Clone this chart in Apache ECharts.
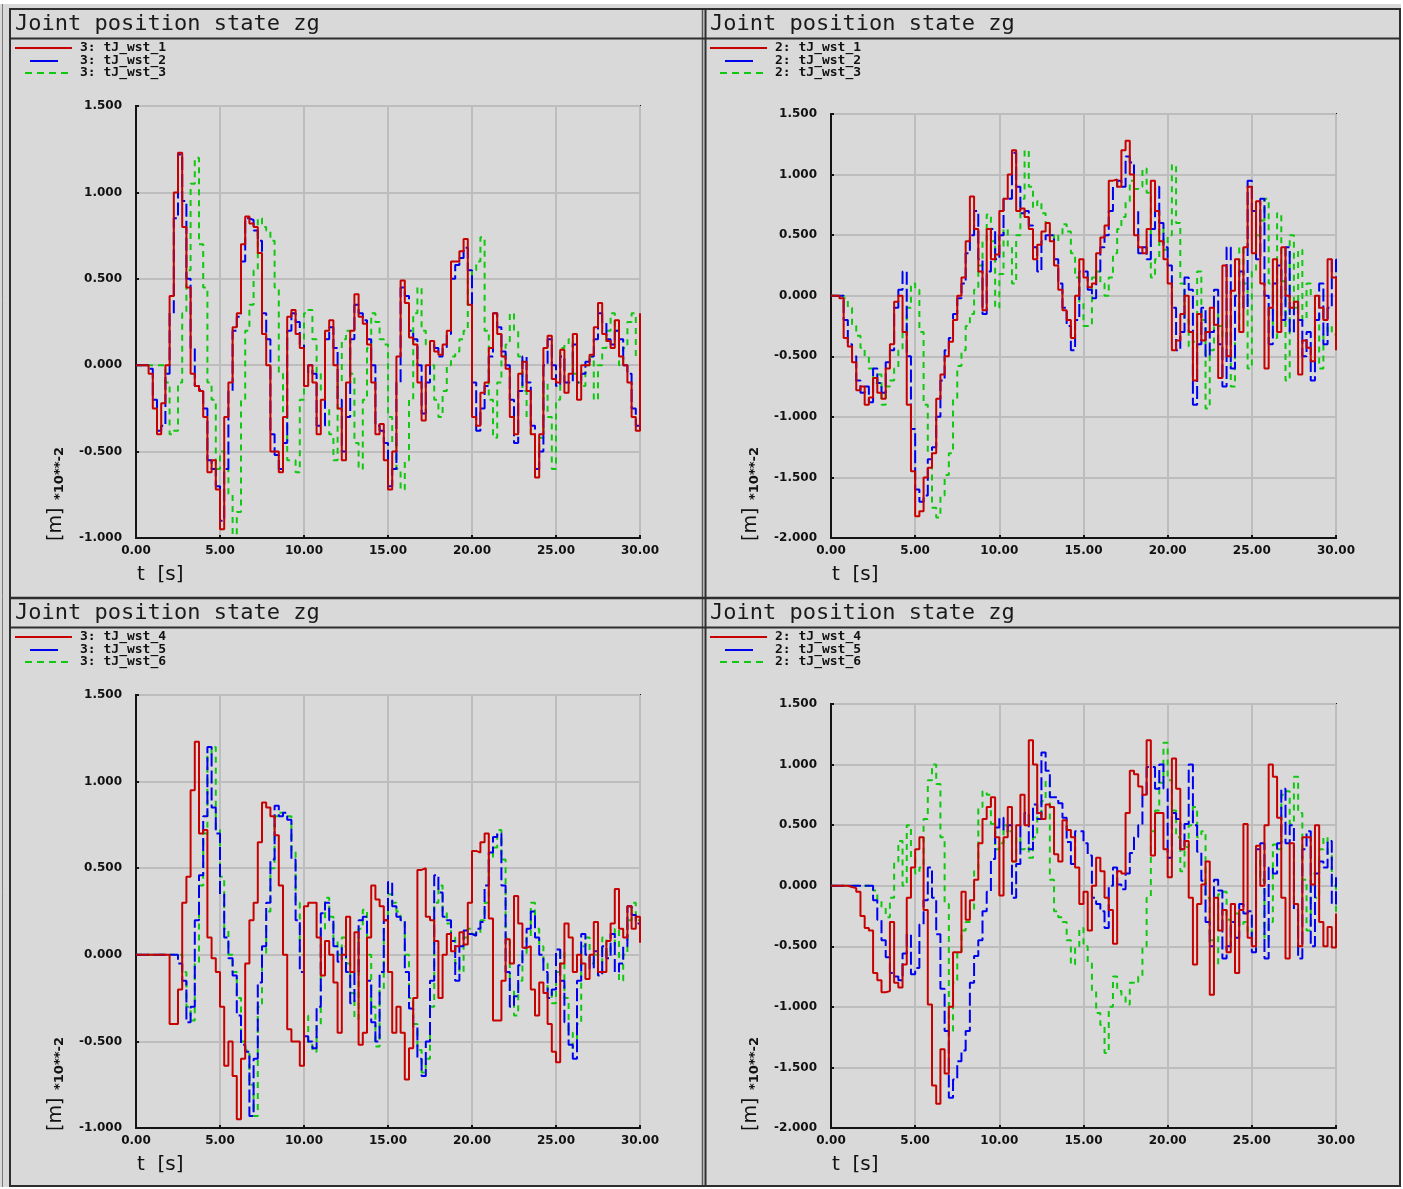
<!DOCTYPE html>
<html>
<head>
<meta charset="utf-8">
<script src="https://cdn.jsdelivr.net/npm/echarts@6/dist/echarts.min.js"></script>
<style>
  html, body { margin: 0; padding: 0; background: #ffffff; }
  #chart { width: 1403px; height: 1189px; }
</style>
</head>
<body>
<div id="chart"></div>
<script>
// Sampling period of the logged joint positions [s]
const SAMPLE_STEP = 0.25;

// Tick labels
const timeTickLabels = ['0.00', '5.00', '10.00', '15.00', '20.00', '25.00', '30.00'];
const posTickLabelsNarrow = ['-1.000', '-0.500', '0.000', '0.500', '1.000', '1.500'];
const posTickLabelsWide = ['-2.000', '-1.500', '-1.000', '-0.500', '0.000', '0.500', '1.000', '1.500'];

// Legend names
const namesTopLeft = ['3: tJ_wst_1', '3: tJ_wst_2', '3: tJ_wst_3'];
const namesTopRight = ['2: tJ_wst_1', '2: tJ_wst_2', '2: tJ_wst_3'];
const namesBottomLeft = ['3: tJ_wst_4', '3: tJ_wst_5', '3: tJ_wst_6'];
const namesBottomRight = ['2: tJ_wst_4', '2: tJ_wst_5', '2: tJ_wst_6'];

// Joint positions [m] *10**-2, one value per sample (rows of 2 s)
const wst1_3 = [
  0, 0, 0, -0.05, -0.25, -0.4, -0.22, 0.0,
  0.4, 1.0, 1.23, 0.8, 0.45, -0.05, -0.12, -0.15,
  -0.3, -0.62, -0.55, -0.72, -0.95, -0.3, -0.1, 0.22,
  0.3, 0.7, 0.86, 0.82, 0.8, 0.65, 0.18, 0.0,
  -0.5, -0.5, -0.62, -0.3, 0.28, 0.32, 0.18, 0.1,
  -0.12, 0.0, -0.1, -0.4, -0.2, 0.2, 0.26, 0.0,
  -0.25, -0.55, -0.1, 0.2, 0.41, 0.28, 0.24, 0.12,
  -0.1, -0.4, -0.34, -0.55, -0.72, -0.5, 0.05, 0.49,
  0.36, 0.16, 0.12, -0.1, -0.32, 0.0, 0.14, 0.08,
  0.06, 0.12, 0.2, 0.6, 0.6, 0.66, 0.73, 0.35,
  -0.3, -0.35, -0.16, -0.1, 0.1, 0.3, 0.18, 0.05,
  -0.02, -0.3, -0.4, -0.05, 0.02, -0.15, -0.4, -0.65,
  -0.4, 0.1, 0.17, -0.08, -0.1, 0.09, -0.16, -0.05,
  0.18, -0.2, 0.0, 0.0, 0.06, 0.22, 0.36, 0.18,
  0.14, 0.1, 0.26, 0.05, 0.0, -0.1, -0.3, -0.38,
  0.3
];
const wst2_3 = [
  0, 0, 0, -0.02, -0.2, -0.38, -0.35, -0.05,
  0.3, 0.85, 1.22, 0.95, 0.5, 0.1, -0.12, -0.14,
  -0.25, -0.55, -0.6, -0.7, -0.9, -0.6, -0.15, 0.2,
  0.28, 0.6, 0.85, 0.84, 0.78, 0.72, 0.3, 0.15,
  -0.4, -0.52, -0.6, -0.45, 0.2, 0.3, 0.25, 0.12,
  -0.05, 0.0, -0.05, -0.35, -0.35, 0.15, 0.22, 0.1,
  -0.2, -0.5, -0.3, 0.15, 0.35, 0.3, 0.26, 0.15,
  0.0, -0.35, -0.38, -0.45, -0.7, -0.6, -0.1, 0.45,
  0.4, 0.2, 0.15, 0.0, -0.28, -0.1, 0.12, 0.1,
  0.05, 0.1, 0.18, 0.5, 0.58, 0.62, 0.68, 0.55,
  -0.1, -0.38, -0.25, -0.12, 0.05, 0.3, 0.22, 0.08,
  0.0, -0.2, -0.45, -0.15, 0.05, -0.1, -0.35, -0.6,
  -0.5, 0.0, 0.15, 0.0, -0.12, 0.05, -0.1, -0.1,
  0.12, -0.1, -0.05, 0.02, 0.05, 0.15, 0.3, 0.25,
  0.15, 0.12, 0.2, 0.15, 0.0, -0.05, -0.25, -0.35,
  0.2
];
const wst3_3 = [
  0, 0, 0, 0, 0, 0, 0, -0.1,
  -0.4, -0.38, -0.1, 0.3, 0.55, 1.05, 1.2, 0.7,
  0.45, -0.1, -0.2, -0.6, -0.5, -0.6, -0.75, -0.98,
  -0.85, -0.2, 0.2, 0.35, 0.55, 0.85, 0.8, 0.78,
  0.72, 0.45, -0.05, -0.3, -0.55, -0.55, -0.62, -0.2,
  0.3, 0.32, 0.15, -0.05, -0.15, -0.25, -0.4, -0.55,
  -0.1, 0.15, 0.2, -0.05, -0.45, -0.6, -0.2, 0.1,
  0.3, 0.25, 0.15, 0.12, -0.3, -0.45, -0.6, -0.72,
  -0.55, -0.2, 0.3, 0.45, 0.2, 0.12, 0.0, -0.2,
  -0.3, -0.15, 0.0, 0.05, 0.08, 0.15, 0.2, 0.5,
  0.55, 0.6, 0.74, 0.2, -0.2, -0.42, -0.1, 0.05,
  0.12, 0.3, 0.2, 0.05, -0.15, -0.3, -0.4, -0.5,
  -0.42, -0.1, -0.3, -0.6, -0.2, 0.1, 0.12, 0.15,
  -0.05, -0.1, -0.12, 0.0, 0.05, -0.2, 0.0, 0.1,
  0.2, 0.3, 0.2, 0.0, 0.1, 0.25, 0.3, 0.05,
  0.0
];
const wst1_2 = [
  0, 0, -0.02, -0.35, -0.42, -0.55, -0.78, -0.75,
  -0.9, -0.84, -0.68, -0.8, -0.85, -0.6, -0.4, -0.05,
  0.0, -0.3, -0.9, -1.45, -1.82, -1.78, -1.5, -1.42,
  -1.3, -0.85, -0.65, -0.5, -0.38, -0.2, 0.0, 0.15,
  0.45, 0.82, 0.55, 0.2, -0.12, 0.55, 0.3, 0.34,
  0.7, 0.8, 1.0, 1.2, 0.7, 0.72, 0.65, 0.55,
  0.3, 0.42, 0.53, 0.6, 0.45, 0.25, 0.05, -0.12,
  -0.2, -0.35, 0.0, 0.3, 0.15, 0.07, 0.1, 0.35,
  0.48, 0.58, 0.95, 0.96, 0.9, 1.2, 1.28, 1.0,
  0.5, 0.4, 0.35, 0.55, 0.95, 0.7, 0.45, 0.3,
  0.1, -0.45, -0.37, -0.15, 0.0, -0.3, -0.7, -0.15,
  -0.37, -0.3, -0.1, -0.24, -0.68, 0.25, -0.5, 0.04,
  0.3, -0.3, 0.4, 0.9, 0.35, 0.78, 0.1, -0.6,
  -0.1, 0.3, -0.3, 0.4, 0.0, -0.1, -0.05, -0.65,
  -0.37, -0.43, -0.54, 0.0, -0.1, -0.2, 0.3, 0.15,
  -0.45
];
const wst2_2 = [
  0, 0, 0, -0.2, -0.4, -0.5, -0.7, -0.8,
  -0.75, -0.88, -0.6, -0.72, -0.8, -0.55, -0.45, -0.1,
  0.05, 0.2, -0.5, -1.1, -1.6, -1.7, -1.65, -1.35,
  -1.25, -1.0, -0.7, -0.45, -0.35, -0.15, -0.02, 0.1,
  0.35, 0.5, 0.7, 0.3, -0.15, 0.2, 0.55, 0.3,
  0.5, 0.8, 0.8, 1.18, 0.9, 0.68, 0.7, 0.58,
  0.4, 0.2, 0.45, 0.5, 0.5, 0.3, 0.1, -0.1,
  -0.25, -0.45, -0.2, 0.2, 0.2, 0.05, -0.02, 0.2,
  0.4, 0.5, 0.7, 0.9, 0.95, 0.9, 1.15, 1.1,
  0.7, 0.35, 0.4, 0.3, 0.55, 0.9, 0.6, 0.4,
  0.25, -0.1, -0.45, -0.3, 0.15, 0.05, -0.9, -0.4,
  -0.1, -0.5, -0.3, 0.05, -0.4, -0.75, 0.4, -0.6,
  0.0, 0.2, -0.1, 0.95, 0.7, 0.3, 0.8, 0.0,
  -0.4, 0.1, 0.25, -0.2, 0.4, -0.3, -0.05, -0.2,
  -0.5, -0.3, -0.7, -0.2, 0.1, -0.4, -0.1, 0.3,
  -0.2
];
const wst3_2 = [
  0, 0, 0, -0.02, -0.1, -0.25, -0.33, -0.43,
  -0.5, -0.6, -0.72, -0.65, -0.9, -0.75, -0.7, -0.6,
  -0.45, -0.3, -0.1, 0.1, 0.05, -0.3, -0.9, -1.3,
  -1.75, -1.83, -1.65, -1.48, -1.3, -0.85, -0.58, -0.45,
  -0.25, -0.15, 0.05, 0.25, 0.45, 0.67, 0.45, -0.1,
  0.18, 0.55, 0.4, 0.1, 0.5, 0.8, 1.2, 0.9,
  0.73, 0.78, 0.68, 0.6, 0.51, 0.45, 0.5, 0.59,
  0.53, 0.35, 0.15, -0.05, -0.25, -0.25, 0.15, 0.2,
  0.1, 0.0, 0.15, 0.35, 0.55, 0.65, 0.78, 0.95,
  0.88, 0.9, 1.05, 0.85, 0.15, 0.3, 0.56, 0.38,
  0.5, 1.08, 0.6, 0.1, -0.2, -0.42, -0.38, 0.2,
  -0.2, -0.93, -0.45, -0.15, -0.25, -0.35, -0.2, -0.75,
  -0.3, 0.4, 0.1, -0.6, 0.2, 0.5, 0.62, 0.8,
  0.1, -0.35, 0.68, 0.12, -0.7, 0.5, -0.1, 0.38,
  -0.2, 0.1, 0.0, -0.15, -0.6, -0.3, -0.25, -0.32,
  -0.1
];
const wst4_3 = [
  0, 0, 0, 0, 0, 0, 0, 0,
  -0.4, -0.4, -0.2, 0.3, 0.45, 0.95, 1.23, 0.7,
  0.72, 0.1, -0.02, -0.1, -0.3, -0.64, -0.5, -0.7,
  -0.95, -0.6, -0.05, 0.2, 0.3, 0.65, 0.88, 0.85,
  0.8, 0.69, 0.4, 0.0, -0.43, -0.5, -0.5, -0.64,
  0.28, 0.3, 0.3, 0.1, -0.12, 0.08, 0.0, -0.16,
  -0.45, 0.0, 0.22, -0.1, 0.13, -0.52, -0.45, 0.1,
  0.4, 0.32, 0.28, 0.2, -0.1, -0.45, -0.3, -0.45,
  -0.72, -0.54, -0.25, 0.49, 0.5, 0.22, 0.2, 0.08,
  -0.25, 0.0, 0.12, 0.02, 0.05, 0.13, 0.06, 0.3,
  0.6, 0.59, 0.65, 0.7, 0.21, -0.38, -0.38, -0.15,
  0.09, -0.05, 0.34, 0.18, 0.04, 0.05, -0.2, -0.35,
  -0.16, -0.22, -0.4, -0.56, -0.62, -0.05, 0.18, 0.1,
  -0.1, 0.0, -0.05, -0.14, 0.0, 0.19, -0.1, -0.1,
  0.08, 0.18, 0.38, 0.15, 0.1, 0.28, 0.15, 0.22,
  0.07
];
const wst5_3 = [
  0, 0, 0, 0, 0, 0, 0, 0,
  0, 0, -0.05, -0.15, -0.39, -0.3, 0.2, 0.46,
  0.8, 1.2, 0.85, 0.7, 0.35, 0.1, -0.02, -0.12,
  -0.35, -0.52, -0.56, -0.93, -0.6, -0.16, 0.05, 0.3,
  0.55, 0.86, 0.8, 0.82, 0.78, 0.55, 0.2, -0.1,
  -0.47, -0.5, -0.54, -0.3, 0.24, 0.3, 0.2, 0.05,
  -0.04, 0.05, -0.1, -0.28, -0.1, 0.2, 0.22, -0.15,
  -0.39, -0.5, -0.1, 0.2, 0.42, 0.28, 0.22, 0.2,
  -0.1, -0.31, -0.42, -0.6, -0.7, -0.5, -0.15, 0.46,
  0.36, 0.22, 0.2, 0.08, -0.15, 0.05, 0.14, 0.12,
  0.11, 0.15, 0.19, 0.4, 0.59, 0.68, 0.7, 0.4,
  -0.1, -0.3, -0.24, -0.06, 0.04, 0.15, 0.25, 0.1,
  0.0, -0.1, -0.25, -0.2, 0.03, -0.15, -0.39, -0.52,
  -0.6, -0.15, 0.12, 0.0, -0.08, 0.02, -0.12, 0.05,
  -0.02, 0.12, -0.1, -0.05, 0.05, 0.28, 0.23, 0.18,
  0.15
];
const wst6_3 = [
  0, 0, 0, 0, 0, 0, 0, 0,
  0, 0, 0, -0.1, -0.3, -0.38, -0.05, 0.4,
  0.7, 1.15, 1.2, 0.72, 0.45, 0.15, 0.0, -0.1,
  -0.25, -0.5, -0.55, -0.75, -0.93, -0.3, 0.0, 0.25,
  0.5, 0.8, 0.82, 0.8, 0.8, 0.6, 0.3, 0.0,
  -0.35, -0.52, -0.56, -0.4, 0.15, 0.33, 0.22, 0.08,
  0.0, 0.1, -0.05, -0.22, -0.37, 0.15, 0.26, 0.0,
  -0.3, -0.53, -0.2, 0.15, 0.35, 0.3, 0.25, 0.19,
  0.0, -0.25, -0.4, -0.55, -0.68, -0.6, -0.3, 0.3,
  0.4, 0.25, 0.18, 0.1, -0.05, -0.1, 0.1, 0.15,
  0.12, 0.12, 0.2, 0.3, 0.55, 0.62, 0.72, 0.55,
  0.1, -0.2, -0.35, -0.15, 0.0, 0.1, 0.3, 0.15,
  0.05, -0.05, -0.2, -0.28, -0.1, 0.02, -0.25, -0.45,
  -0.55, -0.4, 0.05, 0.1, -0.05, 0.0, -0.1, 0.1,
  0.0, 0.05, 0.15, -0.15, 0.0, 0.2, 0.3, 0.2,
  0.18
];
const wst4_2 = [
  0, 0, 0, 0, -0.01, -0.02, -0.05, -0.25,
  -0.35, -0.37, -0.72, -0.78, -0.88, -0.87, -0.3, -0.8,
  -0.84, -0.65, -0.1, 0.15, 0.3, 0.4, -0.2, -0.98,
  -1.65, -1.8, -1.35, -1.55, -1.0, -0.55, -0.55, -0.05,
  -0.28, -0.12, 0.05, 0.35, 0.55, 0.65, 0.73, 0.4,
  -0.08, 0.4, 0.65, 0.2, 0.5, 0.75, 0.5, 1.2,
  1.0, 0.6, 0.55, 0.67, 0.65, 0.26, 0.2, 0.54,
  0.46, 0.4, 0.15, -0.15, -0.05, -0.37, 0.0, 0.23,
  0.12, -0.1, -0.2, -0.48, 0.12, 0.1, 0.6, 0.95,
  0.92, 0.82, 0.75, 1.2, 0.25, 0.6, 0.6, 0.3,
  0.07, 1.05, 0.8, 0.3, 0.37, -0.1, -0.65, -0.15,
  0.01, 0.2, -0.9, -0.1, -0.37, -0.2, -0.55, -0.15,
  -0.72, -0.2, 0.51, -0.43, -0.5, 0.33, 0.0, 0.5,
  1.0, 0.9, 0.56, -0.1, -0.6, 0.35, -0.15, -0.5,
  0.4, 0.4, 0.01, 0.5, -0.3, -0.5, -0.34, -0.51,
  -0.23
];
const wst5_2 = [
  0, 0, 0, 0, 0, 0, 0, 0,
  0, 0, -0.12, -0.28, -0.45, -0.59, -0.72, -0.75,
  -0.78, -0.56, -0.4, -0.73, -0.68, -0.32, -0.12, 0.15,
  -0.1, -0.4, -0.85, -1.2, -1.75, -1.6, -1.45, -1.36,
  -1.2, -0.8, -0.58, -0.45, -0.21, -0.05, 0.22, 0.48,
  0.56, 0.45, 0.5, -0.1, 0.18, 0.5, 0.6, 0.3,
  0.67, 0.55, 1.1, 0.95, 0.73, 0.73, 0.68, 0.56,
  0.36, 0.18, 0.45, 0.45, 0.35, 0.25, -0.1, -0.15,
  -0.21, -0.35, 0.0, 0.15, 0.01, -0.03, 0.1, 0.27,
  0.4, 0.5, 0.75, 0.98, 0.98, 0.8, 1.0, 0.8,
  0.23, 0.6, 0.55, 0.3, 0.51, 1.0, 0.5, 0.28,
  0.04, -0.3, -0.5, 0.05, -0.04, -0.6, -0.5, -0.3,
  -0.43, -0.15, -0.23, -0.21, -0.55, 0.3, 0.35, -0.6,
  0.15, 0.1, 0.35, 0.8, 0.35, 0.5, -0.2, -0.6,
  0.3, 0.45, -0.5, 0.1, 0.2, 0.15, 0.37, -0.15,
  0.07
];
const wst6_2 = [
  0, 0, 0, 0, 0, 0, 0, 0,
  0, 0, -0.04, -0.12, -0.18, -0.26, -0.1, 0.2,
  0.37, 0.0, 0.5, 0.23, 0.1, 0.15, 0.55, 0.87,
  1.0, 0.84, 0.4, -0.15, -1.2, -0.8, -0.55, -0.37,
  -0.3, -0.2, 0.12, 0.65, 0.78, 0.75, 0.51, 0.3,
  0.35, 0.5, 0.45, 0.2, 0.4, 0.3, 0.32, 0.23,
  0.4, 0.59, 0.7, 0.87, 0.05, -0.21, -0.26, -0.3,
  -0.45, -0.65, -0.5, -0.35, -0.5, -0.63, -0.87, -1.05,
  -1.15, -1.38, -1.0, -0.75, -0.87, -0.92, -0.98, -0.8,
  -0.81, -0.75, -0.5, -0.1, 0.45, 0.62, 0.85, 1.18,
  0.87, 0.62, 0.4, 0.12, 0.32, 0.5, 0.65, 0.4,
  0.45, -0.1, -0.45, -0.65, -0.07, -0.05, -0.28, -0.5,
  -0.23, -0.33, -0.3, -0.4, -0.26, 0.23, 0.05, -0.45,
  -0.3, 0.34, 0.3, 0.75, 0.78, 0.51, 0.9, 0.6,
  0.05, -0.37, 0.1, -0.1, 0.3, 0.4, 0.25, 0.0,
  -0.32
];

// Line styles of the three traces in every panel
const traceColors = ['#c80000', '#0000f0', '#10c810'];
const traceDash = ['solid', [13, 4], [6, 5]];

const FONT = 'DejaVu Sans';
const MONO_FONT = 'DejaVu Sans Mono';

// Panel layout: frame origin, plot rectangle, y range
const panels = [
  { ox: 10, oy: 9, grid: { left: 136, top: 106, width: 504, height: 432 }, yMin: -1, yLabels: posTickLabelsNarrow,
    names: namesTopLeft, values: [wst1_3, wst2_3, wst3_3] },
  { ox: 705, oy: 9, grid: { left: 831, top: 114, width: 505, height: 424 }, yMin: -2, yLabels: posTickLabelsWide,
    names: namesTopRight, values: [wst1_2, wst2_2, wst3_2] },
  { ox: 10, oy: 598, grid: { left: 136, top: 695, width: 504, height: 433 }, yMin: -1, yLabels: posTickLabelsNarrow,
    names: namesBottomLeft, values: [wst4_3, wst5_3, wst6_3] },
  { ox: 705, oy: 598, grid: { left: 831, top: 704, width: 505, height: 424 }, yMin: -2, yLabels: posTickLabelsWide,
    names: namesBottomRight, values: [wst4_2, wst5_2, wst6_2] }
];

// Legend sample line extents (relative to the panel frame) for the three traces
const legendSamples = [
  { x1: 5, x2: 62, dy: 39 },
  { x1: 20, x2: 48, dy: 52 },
  { x1: 15, x2: 62, dy: 64 }
];

function toPoints(vals) {
  return vals.map((v, i) => [i * SAMPLE_STEP, v]);
}

const grids = [], xAxes = [], yAxes = [], series = [], graphics = [];

// Window frame: outer border, panel separators and title bars
const frameColor = '#2e2e2e';
function hline(y, x1, x2, w, c) {
  graphics.push({ type: 'line', silent: true, z: 10,
    shape: { x1: x1, y1: y, x2: x2, y2: y }, style: { stroke: c || frameColor, lineWidth: w } });
}
function vline(x, y1, y2, w, c) {
  graphics.push({ type: 'line', silent: true, z: 10,
    shape: { x1: x, y1: y1, x2: x, y2: y2 }, style: { stroke: c || frameColor, lineWidth: w } });
}
graphics.push({ type: 'rect', silent: true, z: 9, shape: { x: 0, y: 0, width: 1403, height: 4 }, style: { fill: '#ffffff' } });
graphics.push({ type: 'rect', silent: true, z: 9, shape: { x: 1401, y: 0, width: 2, height: 1189 }, style: { fill: '#ffffff' } });
graphics.push({ type: 'rect', silent: true, z: 9, shape: { x: 0, y: 1187, width: 1403, height: 2 }, style: { fill: '#ffffff' } });
vline(2.5, 4, 1187, 1, '#7a7a7a');
vline(10, 8, 1187, 2);
vline(1400, 8, 1187, 2);
vline(702.5, 8, 1187, 1.5, '#555');
vline(705.5, 8, 1187, 2);
hline(9, 10, 1400, 2);
hline(38.5, 10, 1400, 2);
hline(598, 10, 1400, 2.5);
hline(627.5, 10, 1400, 2);
hline(1186, 10, 1400, 2);

panels.forEach((p, k) => {
  const g = p.grid;
  grids.push({ left: g.left, top: g.top, width: g.width, height: g.height,
    show: true, borderColor: '#141414', borderWidth: 2, backgroundColor: 'transparent', containLabel: false });

  xAxes.push({
    gridIndex: k, type: 'value', min: 0, max: 30, interval: 5,
    axisLine: { show: true, onZero: false, lineStyle: { color: '#141414', width: 2 } },
    axisTick: { show: true, inside: true, length: 3, lineStyle: { color: '#141414', width: 2 } },
    splitLine: { show: true, lineStyle: { color: '#bdbdbd', width: 2 } },
    axisLabel: { margin: 7, color: '#111', fontSize: 12, fontWeight: 'bold', fontFamily: FONT,
      formatter: v => timeTickLabels[Math.round(v / 5)] }
  });
  yAxes.push({
    gridIndex: k, type: 'value', min: p.yMin, max: 1.5, interval: 0.5,
    axisLine: { show: true, onZero: false, lineStyle: { color: '#141414', width: 2 } },
    axisTick: { show: true, inside: true, length: 3, lineStyle: { color: '#141414', width: 2 } },
    splitLine: { show: true, lineStyle: { color: '#bdbdbd', width: 2 } },
    axisLabel: { margin: 14, color: '#111', fontSize: 12, fontWeight: 'bold', fontFamily: FONT,
      formatter: v => p.yLabels[Math.round((v - p.yMin) / 0.5)] }
  });

  p.names.forEach((name, j) => {
    series.push({
      name: name, type: 'line', xAxisIndex: k, yAxisIndex: k,
      data: toPoints(p.values[j]), step: 'end',
      symbol: 'none', showSymbol: false, animation: false,
      lineStyle: { color: traceColors[j], width: 2, type: traceDash[j] },
      itemStyle: { color: traceColors[j] },
      z: 3 - j
    });

    // Legend entry: sample line plus trace name
    const s = legendSamples[j];
    graphics.push({ type: 'line', silent: true, z: 11,
      shape: { x1: p.ox + s.x1, y1: p.oy + s.dy, x2: p.ox + s.x2, y2: p.oy + s.dy },
      style: { stroke: traceColors[j], lineWidth: 2, lineDash: j === 2 ? [7, 5] : null } });
    graphics.push({ type: 'text', silent: true, z: 11, x: p.ox + 70, y: p.oy + s.dy,
      style: { text: name, font: 'bold 13px "' + MONO_FONT + '"', fill: '#111',
        textAlign: 'left', textVerticalAlign: 'middle' } });
  });

  // Panel title
  graphics.push({ type: 'text', silent: true, z: 11, x: p.ox + 5, y: p.oy + 15,
    style: { text: 'Joint position state zg', font: '22px "' + MONO_FONT + '"', fill: '#1a1a1a',
      textAlign: 'left', textVerticalAlign: 'middle' } });

  // Axis names
  const bottom = g.top + g.height;
  graphics.push({ type: 'text', silent: true, z: 11, x: g.left - 80, y: bottom + 3, rotation: Math.PI / 2,
    style: { text: '[m]', font: '19px "' + FONT + '"', fill: '#111', textAlign: 'left', textVerticalAlign: 'middle' } });
  graphics.push({ type: 'text', silent: true, z: 11, x: g.left - 76, y: bottom - 38, rotation: Math.PI / 2,
    style: { text: '*10**-2', font: 'bold 13px "' + FONT + '"', fill: '#111', textAlign: 'left', textVerticalAlign: 'middle' } });
  graphics.push({ type: 'text', silent: true, z: 11, x: g.left + 1, y: bottom + 37,
    style: { text: 't  [s]', font: '20px "' + FONT + '"', fill: '#111', textAlign: 'left', textVerticalAlign: 'middle' } });
});

const chart = echarts.init(document.getElementById('chart'), null, { renderer: 'canvas' });
chart.setOption({
  backgroundColor: '#d9d9d9',
  animation: false,
  grid: grids,
  xAxis: xAxes,
  yAxis: yAxes,
  series: series,
  graphic: graphics
});
</script>
</body>
</html>
